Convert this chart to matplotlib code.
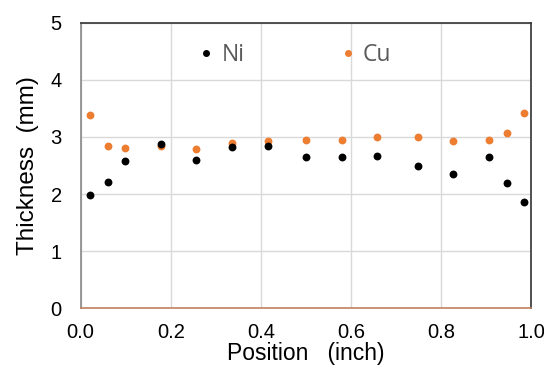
import matplotlib
matplotlib.use("Agg")
import matplotlib.pyplot as plt
from matplotlib.lines import Line2D

position = [0.020, 0.060, 0.099, 0.179, 0.257, 0.335, 0.415, 0.501, 0.580, 0.658, 0.749, 0.827, 0.906, 0.946, 0.984]
ni = [1.985, 2.21, 2.575, 2.87, 2.60, 2.82, 2.84, 2.65, 2.645, 2.67, 2.49, 2.35, 2.655, 2.19, 1.86]
cu = [3.385, 2.84, 2.80, 2.84, 2.78, 2.895, 2.935, 2.94, 2.94, 2.99, 2.99, 2.935, 2.94, 3.07, 3.41]
x_ticks = [0.0, 0.2, 0.4, 0.6, 0.8, 1.0]
y_ticks = [0, 1, 2, 3, 4, 5]

plt.rcParams['font.family'] = ['Liberation Sans', 'DejaVu Sans']

fig = plt.figure(figsize=(5.44, 3.71), dpi=100)
ax = fig.add_axes([0.148, 0.169, 0.829, 0.770])

ORANGE = '#ED7D31'
ax.scatter(position, cu, s=32, color=ORANGE, zorder=3, linewidths=0)
ax.scatter(position, ni, s=32, color='black', zorder=3, linewidths=0)

ax.set_xlim(0, 1)
ax.set_ylim(0, 5)
ax.set_xticks(x_ticks)
ax.set_xticklabels([f"{v:.1f}" for v in x_ticks])
ax.set_yticks(y_ticks)
ax.set_yticklabels([str(v) for v in y_ticks])
ax.tick_params(length=0, labelsize=14.5)
ax.tick_params(axis='x', pad=10.5)
ax.tick_params(axis='y', pad=13.5)
ax.grid(True, color='#d9d9d9', linewidth=1)
ax.set_axisbelow(True)

ax.spines['left'].set_color('#888888')
ax.spines['top'].set_color('#333333')
ax.spines['right'].set_color('#333333')
ax.spines['bottom'].set_color('#C0825A')
for s in ax.spines.values():
    s.set_linewidth(1.2)

ax.set_xlabel('Position   (inch)', fontsize=16.5, labelpad=0)
ax.set_ylabel('Thickness  (mm)', fontsize=17.5, labelpad=8.5)

leg_kw = dict(frameon=False, loc='center left', prop={'family': 'Open Sans', 'size': 16.5},
              handlelength=0.6, handletextpad=0.35, borderpad=0, borderaxespad=0)
h_ni = Line2D([], [], linestyle='none', marker='o', color='black', markersize=4)
h_cu = Line2D([], [], linestyle='none', marker='o', color=ORANGE, markersize=4)
leg1 = ax.legend([h_ni], ['Ni'], bbox_to_anchor=(0.264, 0.887), **leg_kw)
ax.add_artist(leg1)
leg2 = ax.legend([h_cu], ['Cu'], bbox_to_anchor=(0.578, 0.887), **leg_kw)
for lg in (leg1, leg2):
    for t in lg.get_texts():
        t.set_color('#595959')

fig.savefig('out.png', dpi=100)
